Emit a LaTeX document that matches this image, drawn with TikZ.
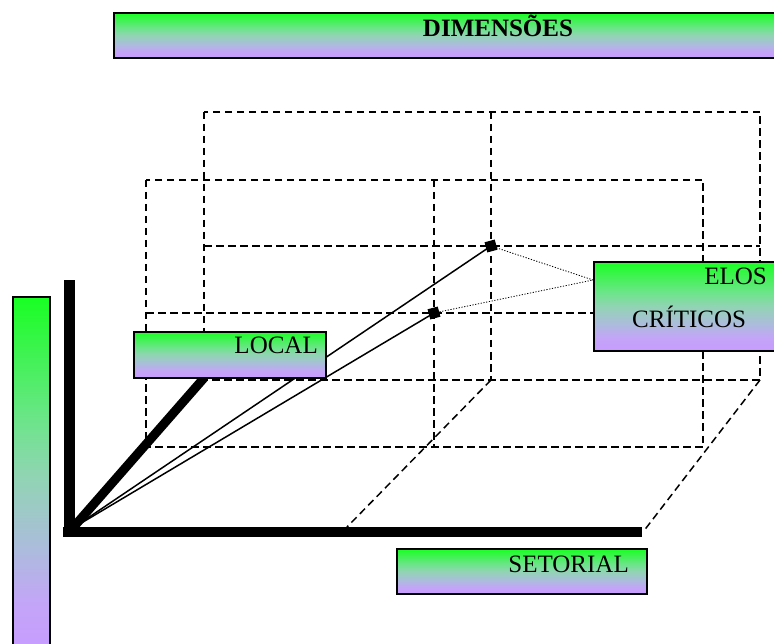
\documentclass[tikz,border=0pt]{standalone}
\usepackage{fontspec}
\setmainfont{Liberation Serif}

% green-to-lilac fill used by every label box and the side bar
\definecolor{gtop}{RGB}{25,255,35}
\definecolor{glight}{RGB}{110,228,140}
\definecolor{gmint}{RGB}{145,212,180}
\definecolor{gsteel}{RGB}{172,188,220}
\definecolor{glav}{RGB}{195,165,248}
\definecolor{gbot}{RGB}{200,155,255}
\pgfdeclareverticalshading{gradbox}{100bp}{%
  color(0bp)=(gbot); color(25bp)=(gbot); color(32.5bp)=(glav);
  color(40bp)=(gsteel); color(50bp)=(gmint); color(57.5bp)=(glight);
  color(75bp)=(gtop); color(100bp)=(gtop)}

\tikzset{
  gbox/.style={rectangle, draw=black, line width=1.7pt, shading=gradbox, inner sep=0pt},
  boxtext/.style={inner sep=0pt, font=\fontsize{25}{30}\selectfont},
  gridline/.style={line width=1.5pt, dash pattern=on 7.5pt off 4.5pt},
  axisline/.style={line width=#1, line cap=butt},
  ray/.style={line width=1.5pt},
  linkline/.style={line width=0.8pt, dash pattern=on 1.2pt off 1.6pt},
  marker/.style={rectangle, fill=black, minimum size=10.5pt, inner sep=0pt, rotate=15},
}

\begin{document}
\begin{tikzpicture}[x=1pt, y=-1pt]
\clip (0,0) rectangle (774,644);

% back frame
\draw[gridline] (204,112) rectangle (760,380);
\draw[gridline] (491,112) -- (491,380);
\draw[gridline] (204,246) -- (760,246);
% front frame
\draw[gridline] (146,180) rectangle (703,447);
\draw[gridline] (434,180) -- (434,447);
\draw[gridline] (146,313) -- (703,313);
% depth edges
\coordinate (bk1) at (491,380);
\coordinate (fl1) at (347,527);
\coordinate (bk2) at (760,380);
\coordinate (fl2) at (643,532);
\draw[gridline] (bk1) -- (fl1);
\draw[gridline] (bk2) -- (fl2);

% axes
\coordinate (O) at (69,533);
\coordinate (ytop) at (69,280);
\coordinate (xend) at (642,532);
\coordinate (zend) at (204,378);
\coordinate (xo) at (63,532);

% critical points and rays
\node[marker] (p1) at (491,246) {};
\node[marker] (p2) at (434,313) {};
\coordinate (ro) at (73,528);
\draw[ray] (ro) -- (p1.center);
\draw[ray] (ro) -- (p2.center);

\draw[axisline=11pt] (O) -- (ytop);
\draw[axisline=10pt] (xo) -- (xend);
\draw[axisline=9pt] (71,530) -- (zend);

% side bar
\node[gbox, anchor=north west, minimum width=37pt, minimum height=360pt] (bar) at (12,296) {};

% title
\node[gbox, anchor=north west, minimum width=670pt, minimum height=45pt] (titlebox) at (113,12) {};
\node[boxtext, anchor=base, font=\fontsize{25}{30}\selectfont\bfseries] (title) at (498,37) {DIMENSÕES};

% LOCAL
\node[gbox, anchor=north west, minimum width=192pt, minimum height=46pt] (localbox) at (133,331) {};
\node[boxtext, anchor=base east] (local) at (318,354) {LOCAL};

% SETORIAL
\node[gbox, anchor=north west, minimum width=250pt, minimum height=45pt] (setbox) at (396,548) {};
\node[boxtext, anchor=base east] (setorial) at (629,572) {SETORIAL};

% ELOS CRITICOS
\coordinate (ec) at (593,280);
\draw[linkline] (p1.center) -- (ec);
\draw[linkline] (p2.center) -- (ec);
\node[gbox, anchor=north west, minimum width=190pt, minimum height=89pt] (elosbox) at (593,261) {};
\node[boxtext, anchor=base east] (elos) at (767,285) {ELOS};
\node[boxtext, anchor=base west] (criticos) at (632,328) {CRÍTICOS};
\end{tikzpicture}
\end{document}
